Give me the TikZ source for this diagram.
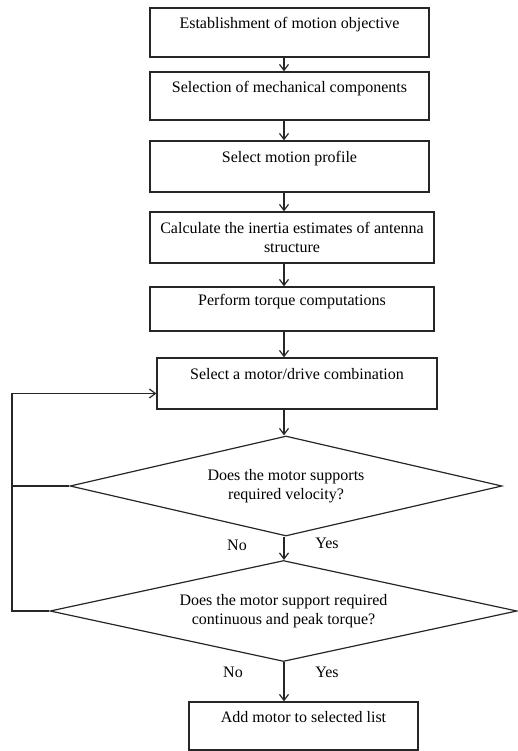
\documentclass[tikz,border=0pt]{standalone}
\usepackage{fontspec}
\setmainfont{Liberation Serif}
\usetikzlibrary{arrows.meta, positioning, shapes.geometric, calc}

\begin{document}
\begin{tikzpicture}[
    x=1pt, y=-1pt,
    stepbox/.style={rectangle, draw=black!85, line width=1.2pt, inner sep=0pt, align=center, font=\fontsize{16}{19}\selectfont},
    decision/.style={diamond, draw=black!85, line width=1.2pt, inner sep=0pt, aspect=4.4, align=center, font=\fontsize{16}{19}\selectfont},
    arr/.style={-{Straight Barb[length=6pt, width=9pt]}, line width=1.2pt, draw=black!85},
    lbl/.style={font=\fontsize{16}{19}\selectfont},
]
\useasboundingbox (0,0) rectangle (517,751);

% ========== PROCESS STEPS ==========
\node[stepbox, minimum width=279, minimum height=49] at (289.5,32.5) (objective) {Establishment of motion objective\\~};
\node[stepbox, minimum width=279, minimum height=48] at (289.5,96) (mechanics) {Selection of mechanical components\\~};
\node[stepbox, minimum width=279, minimum height=51] at (289.5,166.5) (profile) {Select motion profile\\~};
\node[stepbox, minimum width=284, minimum height=51] at (292,237.5) (inertia) {Calculate the inertia estimates of antenna\\structure};
\node[stepbox, minimum width=284, minimum height=44] at (292,309) (torque) {Perform torque computations\\~};
\node[stepbox, minimum width=280, minimum height=51] at (297,383.5) (motor) {Select a motor/drive combination\\~};

% ========== DECISIONS ==========
\node[decision, minimum width=432, minimum height=100] at (286,486) (velocity) {Does the motor supports\\required velocity?};
\node[decision, minimum width=467, minimum height=101] at (283.5,611) (peak) {Does the motor support required\\continuous and peak torque?};

\node[stepbox, minimum width=229, minimum height=48] at (303.5,726) (addlist) {Add motor to selected list\\~};

% ========== CONNECTIONS ==========
\coordinate (axis) at (284,0);
\draw[arr] (objective.south -| axis) -- (mechanics.north -| axis);
\draw[arr] (mechanics.south -| axis) -- (profile.north -| axis);
\draw[arr] (profile.south -| axis) -- (inertia.north -| axis);
\draw[arr] (inertia.south -| axis) -- (torque.north -| axis);
\draw[arr] (torque.south -| axis) -- (motor.north -| axis);
\draw[arr] (motor.south -| axis) -- (velocity.north -| axis);
\draw[arr] (velocity.south -| axis) -- (peak.north -| axis);
\draw[arr] (peak.south -| axis) -- (addlist.north -| axis);

% Yes / No labels
\node[lbl] at (237,545) (no1) {No};
\node[lbl] at (327,543) (yes1) {Yes};
\node[lbl] at (233,672) (no2) {No};
\node[lbl] at (327,672) (yes2) {Yes};

% --- feedback loop back to motor selection ---
\coordinate (loop) at (12,611);
\draw[line width=1.2pt, draw=black!85] (velocity.west) -- (velocity.west -| loop);
\draw[arr] (peak.west) -- (loop) |- ([yshift=-10pt]motor.west);

\end{tikzpicture}
\end{document}
